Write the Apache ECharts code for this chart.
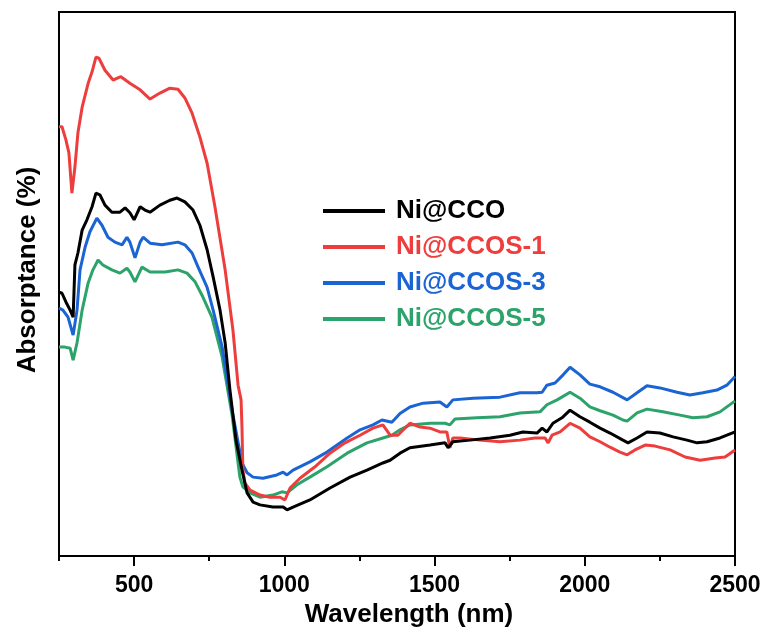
<!DOCTYPE html>
<html>
<head>
<meta charset="utf-8">
<script src="https://cdn.jsdelivr.net/npm/echarts@6/dist/echarts.min.js"></script>
<style>html,body{margin:0;padding:0;background:#fff}#c{width:772px;height:633px}</style>
</head>
<body>
<div id="c"></div>
<script>
// Series names and colours
const names = ['Ni@CCO', 'Ni@CCOS-1', 'Ni@CCOS-3', 'Ni@CCOS-5'];
const colors = ['#000000', '#ee3d3d', '#1a64d4', '#2ba36a'];

// Tick values
const majorTicks = [500, 1000, 1500, 2000, 2500];
const minorTicks = [250, 750, 1250, 1750, 2250];

// Ni@CCO
const wlCCO = [250,260,273,287,297,303,313,327,343,360,373,386,403,426,453,470,486,500,520,536,553,586,619,643,669,696,719,743,763,786,803,819,839,859,876,896,919,962,996,1009,1029,1085,1152,1219,1275,1328,1352,1385,1418,1485,1535,1545,1561,1618,1685,1751,1794,1841,1858,1874,1894,1924,1951,1984,2017,2051,2084,2127,2144,2174,2207,2250,2294,2340,2374,2407,2450,2490,2500];
const absCCO = [48.5,48.3,46.7,45.2,43.9,53.5,55.7,59.9,61.8,64.2,66.7,66.4,64.5,63.2,63.2,64.0,63.1,61.8,64.2,63.6,63.2,64.5,65.4,65.8,65.1,63.6,60.8,56.3,51.3,45.2,39.2,30.5,21.3,15.8,11.6,9.9,9.4,9.0,9.0,8.5,9.0,10.3,12.5,14.5,15.8,17.1,17.6,18.9,19.9,20.4,20.8,19.9,21.0,21.3,21.7,22.2,22.8,22.6,23.5,22.8,24.4,25.4,26.8,25.6,24.6,23.5,22.6,21.3,20.8,21.7,22.8,22.6,21.9,21.3,20.8,21.0,21.7,22.6,22.8];

// Ni@CCOS-1
const wlS1 = [250,260,273,283,293,303,313,327,347,360,373,383,403,430,456,486,520,553,586,619,646,669,693,719,743,769,803,829,846,856,859,862,869,886,919,952,986,1002,1019,1052,1102,1152,1202,1252,1295,1328,1352,1378,1418,1452,1485,1518,1541,1551,1561,1585,1651,1718,1784,1834,1868,1878,1891,1918,1951,1984,2017,2051,2084,2117,2141,2167,2201,2234,2284,2334,2384,2434,2467,2500];
const absS1 = [78.9,78.9,76.5,74.1,66.7,71.5,77.8,82.5,86.9,89.0,91.7,91.5,89.3,87.5,88.1,86.9,85.7,84.0,85.1,86.0,85.8,84.2,81.4,77.0,72.2,64.2,52.6,41.5,31.4,28.7,23.7,15.8,13.4,12.1,11.2,10.8,10.8,10.3,12.5,14.3,16.4,18.9,20.8,22.2,23.5,24.1,22.2,22.2,24.4,23.7,23.5,22.8,22.8,19.9,21.7,21.7,21.3,21.0,21.3,21.7,21.7,20.8,22.2,22.8,24.4,23.5,21.9,21.0,20.0,19.1,18.6,19.5,20.4,20.2,19.5,18.2,17.6,18.0,18.2,19.5];

// Ni@CCOS-3
const wlS3 = [250,263,280,297,310,320,337,353,376,393,413,436,460,476,486,503,520,530,553,593,646,669,693,713,743,763,793,826,859,876,896,929,975,996,1009,1029,1085,1142,1209,1252,1295,1325,1358,1385,1418,1462,1518,1541,1561,1628,1718,1784,1841,1858,1874,1901,1928,1951,1984,2017,2051,2094,2141,2174,2207,2250,2307,2350,2393,2440,2473,2490,2500];
const absS3 = [45.6,45.2,43.9,40.6,45.2,52.6,56.8,59.6,62.1,60.8,58.6,57.7,57.2,58.6,57.7,54.8,57.7,58.6,57.5,57.2,57.7,57.2,55.7,53.1,49.4,45.2,38.4,26.8,17.1,15.3,14.5,14.3,14.9,15.4,14.9,15.8,17.3,19.1,21.7,23.2,24.1,25.0,24.6,26.2,27.4,28.1,28.3,27.4,28.7,29.0,29.2,30.0,30.0,30.1,31.4,31.8,33.3,34.7,33.3,31.6,31.1,30.1,28.7,30.0,31.3,30.9,30.1,29.6,30.0,30.5,31.4,32.4,33.0];

// Ni@CCOS-5
const wlS5 = [250,270,287,297,310,327,347,363,380,396,426,453,476,486,503,526,553,603,646,676,703,729,759,793,826,852,862,886,919,962,992,1009,1042,1085,1142,1209,1275,1328,1358,1385,1418,1485,1535,1551,1568,1641,1718,1784,1851,1874,1908,1951,1984,2017,2051,2094,2127,2141,2174,2207,2260,2317,2360,2407,2450,2490,2500];
const absS5 = [38.4,38.4,38.2,36.0,39.2,45.2,50.2,52.6,54.4,53.5,52.6,52.0,52.9,52.2,50.4,53.1,52.2,52.2,52.6,52.0,50.4,47.6,43.9,36.6,25.9,14.5,12.7,11.6,10.8,11.2,11.8,11.6,13.1,14.5,16.4,18.9,20.8,21.7,22.2,23.2,24.1,24.4,24.4,24.1,25.2,25.4,25.6,26.3,26.5,27.8,28.7,30.1,29.0,27.4,26.7,25.9,25.0,24.8,26.3,27.0,26.5,25.9,25.4,25.6,26.5,28.1,28.5];

const wls = [wlCCO, wlS1, wlS3, wlS5];
const abss = [absCCO, absS1, absS3, absS5];

const series = names.map((n, i) => ({
  name: n,
  type: 'line',
  xAxisIndex: 0,
  yAxisIndex: 0,
  showSymbol: false,
  symbol: 'none',
  smooth: false,
  lineStyle: { color: colors[i], width: 3 },
  itemStyle: { color: colors[i] },
  data: wls[i].map((w, k) => [w, abss[i][k]]),
  z: 10 - i
}));

const font = 'Arial, "Liberation Sans", sans-serif';
const chart = echarts.init(document.getElementById('c'), null, { renderer: 'canvas' });
chart.setOption({
  animation: false,
  backgroundColor: '#ffffff',
  grid: { left: 59, right: 37, top: 12, bottom: 77, containLabel: false, outerBoundsMode: 'none', show: true, borderColor: '#000', borderWidth: 2, backgroundColor: 'transparent' },
  legend: {
    orient: 'vertical',
    left: 318,
    top: 191,
    icon: 'rect',
    itemWidth: 62,
    itemHeight: 4,
    itemGap: 6,
    data: names.map((n, i) => ({ name: n, textStyle: { color: colors[i] } })),
    textStyle: { fontFamily: font, fontWeight: 'bold', fontSize: 26, lineHeight: 30, padding: [0, 0, 0, 6] }
  },
  xAxis: [{
    type: 'value',
    min: 250,
    max: 2500,
    position: 'bottom',
    name: 'Wavelength (nm)',
    nameLocation: 'middle',
    nameGap: 43,
    nameTextStyle: { fontFamily: font, fontWeight: 'bold', fontSize: 26, color: '#000', padding: [0, 0, 0, 24] },
    splitLine: { show: false },
    axisLine: { show: true, lineStyle: { color: '#000', width: 2 } },
    axisTick: { show: true, inside: false, length: 10, customValues: majorTicks, lineStyle: { color: '#000', width: 2 } },
    axisLabel: { show: true, margin: 18, customValues: majorTicks, formatter: v => String(v), fontFamily: font, fontWeight: 'bold', fontSize: 23, color: '#000' }
  }, {
    type: 'value',
    min: 250,
    max: 2500,
    position: 'bottom',
    splitLine: { show: false },
    axisLine: { show: false },
    axisTick: { show: true, inside: false, length: 5, customValues: minorTicks, lineStyle: { color: '#000', width: 2 } },
    axisLabel: { show: false, customValues: minorTicks }
  }],
  yAxis: {
    type: 'value',
    min: 0,
    max: 100,
    name: 'Absorptance (%)',
    nameLocation: 'middle',
    nameGap: 18,
    nameTextStyle: { fontFamily: font, fontWeight: 'bold', fontSize: 26, color: '#000', padding: [0, 0, 0, 28] },
    splitLine: { show: false },
    axisLine: { show: true, lineStyle: { color: '#000', width: 2 } },
    axisTick: { show: false },
    axisLabel: { show: false }
  },
  series: series
});
</script>
</body>
</html>
